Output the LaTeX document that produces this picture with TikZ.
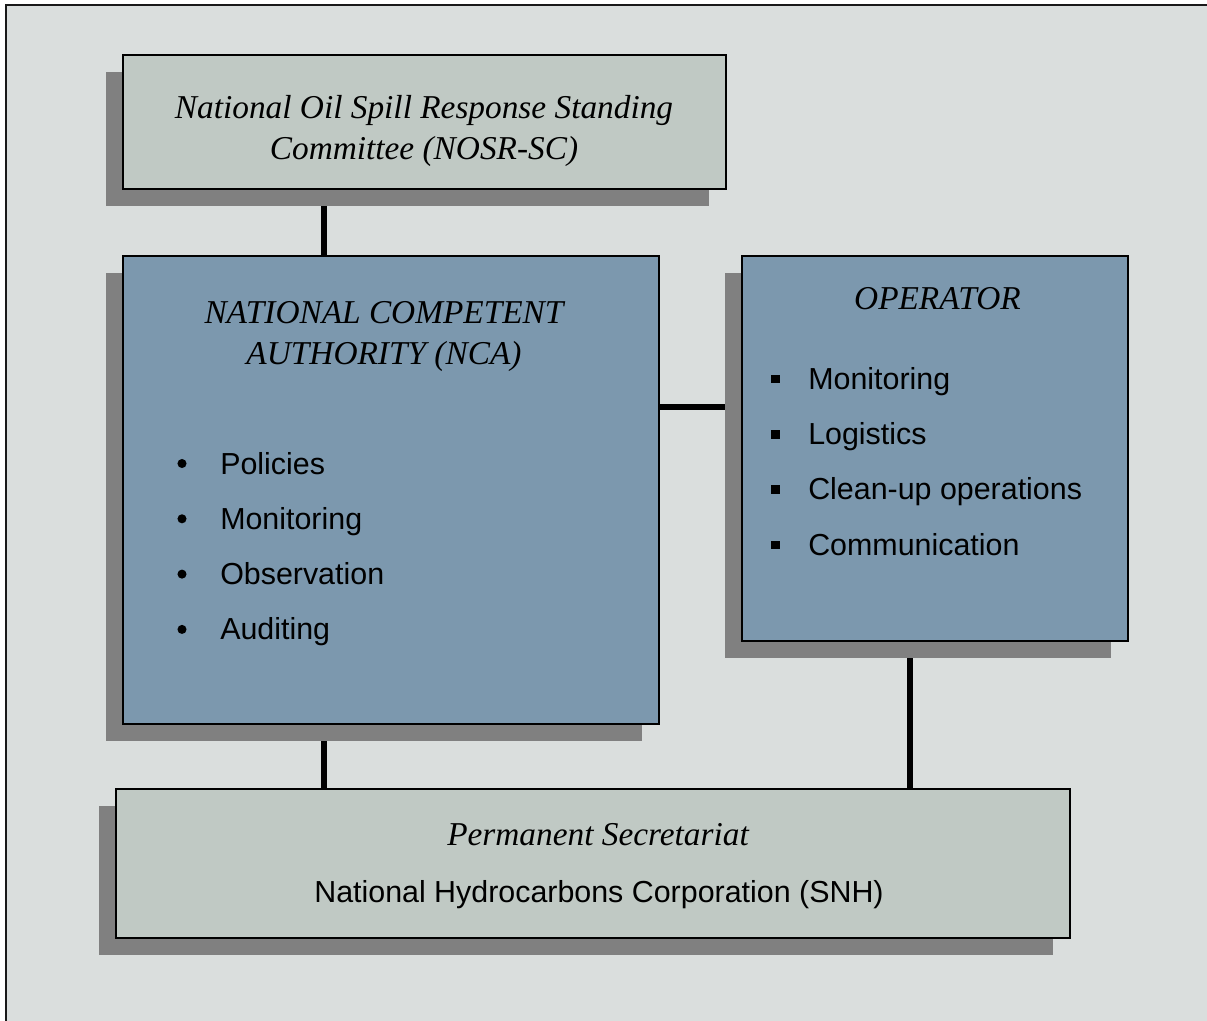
\documentclass[tikz,border=0pt]{standalone}
\usepackage{fontspec}
\setmainfont{Liberation Serif}
\setsansfont{Liberation Sans}
\usetikzlibrary{shadows}
\pgfdeclarelayer{bg}
\pgfdeclarelayer{lines}
\pgfsetlayers{bg,lines,main}
\definecolor{pagebg}{HTML}{DADEDD}
\definecolor{greybox}{HTML}{C0C9C4}
\definecolor{bluebox}{HTML}{7C98AE}
\definecolor{shadowgrey}{HTML}{808080}
\tikzset{
  box/.style={draw=black, line width=1.5pt, inner sep=0pt,
    drop shadow={shadow xshift=-12.75pt, shadow yshift=-12.75pt, opacity=1, fill=shadowgrey}},
  conn/.style={line width=4.5pt, black},
  serif/.style={font=\fontsize{25}{30}\selectfont\itshape, inner sep=0pt, anchor=base},
  sans/.style={font=\sffamily\fontsize{22.8}{27}\selectfont, inner sep=0pt, anchor=base west},
  rbullet/.style={fill=black, circle, minimum size=6.8pt, inner sep=0pt},
  sbullet/.style={fill=black, minimum size=6.6pt, inner sep=0pt}
}
\begin{document}
\begin{tikzpicture}[x=0.75pt, y=-0.75pt]
\useasboundingbox (0,0) rectangle (1207,1021);
\begin{pgfonlayer}{bg}
  \fill[white] (0,0) rectangle (1207,1021);
  \fill[pagebg] (6,5) rectangle (1207,1021);
  \draw[line width=1.1pt, draw=black!90] (6,1021) -- (6,5) -- (1207,5);
\end{pgfonlayer}

\node[box, fill=greybox, minimum width=452.25pt, minimum height=100.5pt] (top) at (424.5,122) {};
\node[box, fill=bluebox, minimum width=402pt, minimum height=351pt] (nca) at (391,490) {};
\node[box, fill=bluebox, minimum width=289.5pt, minimum height=288.75pt] (op) at (935,448.5) {};
\node[box, fill=greybox, minimum width=715.5pt, minimum height=111.75pt] (bot) at (593,863.5) {};

\coordinate (xa) at (324,0);
\coordinate (xb) at (910,0);
\coordinate (ya) at (0,407);
\begin{pgfonlayer}{lines}
  \draw[conn] (xa |- top.center) -- (xa |- nca.center);
  \draw[conn] (ya -| nca.center) -- (ya -| op.center);
  \draw[conn] (xa |- nca.center) -- (xa |- bot.center);
  \draw[conn] (xb |- op.center) -- (xb |- bot.center);
\end{pgfonlayer}

\node[serif] (toptxt1) at (424,118) {National Oil Spill Response Standing};
\node[serif] (toptxt2) at (424,159) {Committee (NOSR-SC)};
\node[serif] (ncatxt1) at (384,323) {NATIONAL COMPETENT};
\node[serif] (ncatxt2) at (384,364) {AUTHORITY (NCA)};
\node[serif] (optxt) at (937.5,309) {OPERATOR};

\node[rbullet] (nb1) at (182,463.5) {};
\node[rbullet] (nb2) at (182,518.8) {};
\node[rbullet] (nb3) at (182,574.1) {};
\node[rbullet] (nb4) at (182,629.4) {};
\node[sans] (nl1) at (220,474) {Policies};
\node[sans] (nl2) at (220,529.3) {Monitoring};
\node[sans] (nl3) at (220,584.6) {Observation};
\node[sans] (nl4) at (220,639.9) {Auditing};

\node[sbullet] (ob1) at (775.3,379) {};
\node[sbullet] (ob2) at (775.3,434.3) {};
\node[sbullet] (ob3) at (775.3,489.6) {};
\node[sbullet] (ob4) at (775.3,544.9) {};
\node[sans] (ol1) at (808,389.3) {Monitoring};
\node[sans] (ol2) at (808,444.6) {Logistics};
\node[sans] (ol3) at (808,499.9) {Clean-up operations};
\node[sans] (ol4) at (808,555.2) {Communication};

\node[serif] (bottxt1) at (598,845) {Permanent Secretariat};
\node[sans, anchor=base] (bottxt2) at (599,902.3) {National Hydrocarbons Corporation (SNH)};
\end{tikzpicture}
\end{document}
